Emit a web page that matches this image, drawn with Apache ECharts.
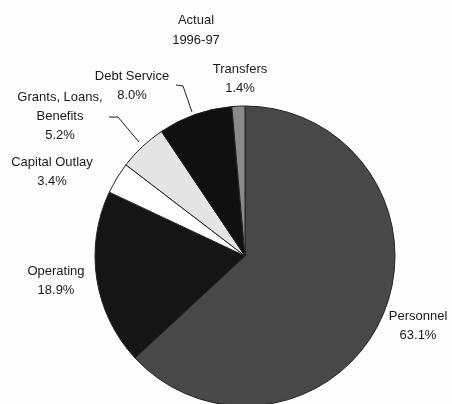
<!DOCTYPE html>
<html>
<head>
<meta charset="utf-8">
<script src="https://cdn.jsdelivr.net/npm/echarts@6/dist/echarts.min.js"></script>
<style>
  html, body { margin: 0; padding: 0; background: #fdfdfd; }
  #main { width: 452px; height: 404px; }
</style>
</head>
<body>
<div id="main"></div>
<script>
// 1996-97 实际支出
var names = ['Personnel', 'Operating', 'Capital Outlay', 'Grants, Loans,\nBenefits', 'Debt Service', 'Transfers'];
var values = [63.1, 18.9, 3.4, 5.2, 8.0, 1.4];
var colors = ['#484848', '#151515', '#ffffff', '#e4e4e4', '#101010', '#8a8a8a'];

// label spots (center x, center y) and leader lines
var labelPos = [[418, 326], [56, 281], [52, 172], [60, 116], [132, 86], [240, 79]];
var leaders = {
  3: [[109, 117], [118, 117], [139, 142]],
  4: [[176, 85], [183, 86], [192, 112]]
};

function Echarts_1(){
  var chart = echarts.init(document.getElementById('main'));
  var data = names.map(function(n, i){
    return {
      name: n,
      value: values[i],
      itemStyle: { color: colors[i] },
      labelLine: { show: !!leaders[i] }
    };
  });
  var option = {
    backgroundColor: '#fdfdfd',
    animation: false,
    title: {
      text: 'Actual\n1996-97',
      left: 191,
      top: 5,
      textAlign: 'center',
      textStyle: { fontFamily: 'Liberation Sans', fontSize: 13, fontWeight: 'normal', color: '#222', lineHeight: 20 }
    },
    series: [
      {
        type: 'pie',
        center: [245, 256],
        radius: 150,
        startAngle: 90,
        clockwise: true,
        data: data,
        itemStyle: { borderColor: '#222', borderWidth: 1 },
        label: {
          show: true,
          position: 'outside',
          overflow: 'none',
          fontFamily: 'Liberation Sans',
          fontSize: 13,
          color: '#1a1a1a',
          lineHeight: 19,
          align: 'center',
          formatter: function(p){ return p.name + '\n' + p.value.toFixed(1) + '%'; }
        },
        labelLine: { lineStyle: { color: '#222', width: 1 } },
        labelLayout: function(p){
          var pos = labelPos[p.dataIndex];
          var r = { x: pos[0], y: pos[1], align: 'center', verticalAlign: 'middle' };
          if (leaders[p.dataIndex]) r.labelLinePoints = leaders[p.dataIndex];
          return r;
        }
      }
    ]
  };
  chart.setOption(option);
}

Echarts_1();
</script>
</body>
</html>
